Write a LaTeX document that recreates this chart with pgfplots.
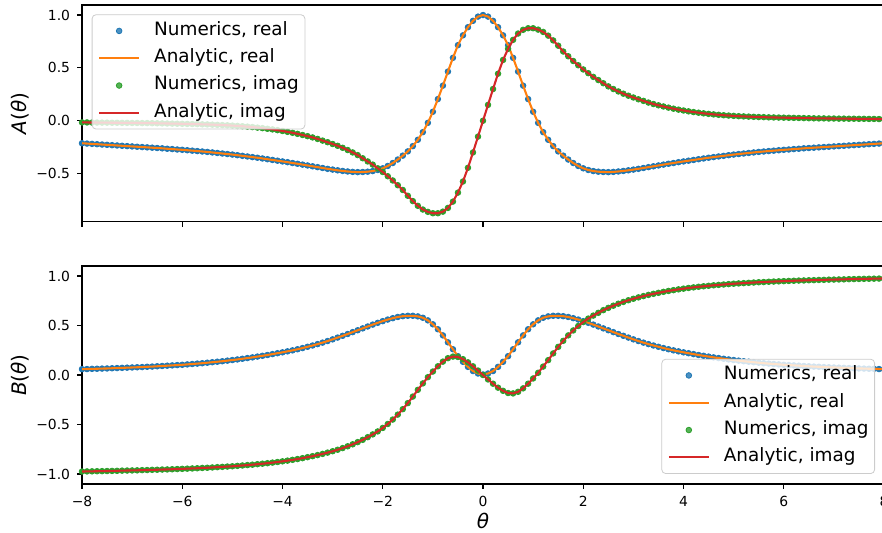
\documentclass[border=0pt]{standalone}
\usepackage{pgfplots}
\pgfplotsset{compat=1.18}
\usepackage{pgfplotstable}
\usepackage{fontspec}
\setmainfont{DejaVu Sans}
\definecolor{c0}{HTML}{1F77B4}
\definecolor{c1}{HTML}{FF7F0E}
\definecolor{c2}{HTML}{2CA02C}
\definecolor{c3}{HTML}{D62728}
\definecolor{lgrid}{HTML}{CCCCCC}

\pgfplotstableread{
t Ar Ai Br Bi
-8.0 -0.213 -0.016 0.059 -0.975
-7.9 -0.216 -0.016 0.060 -0.974
-7.8 -0.219 -0.017 0.062 -0.973
-7.7 -0.222 -0.017 0.063 -0.972
-7.6 -0.225 -0.018 0.065 -0.971
-7.5 -0.228 -0.018 0.066 -0.970
-7.4 -0.231 -0.019 0.068 -0.969
-7.3 -0.234 -0.019 0.070 -0.968
-7.2 -0.237 -0.020 0.072 -0.966
-7.1 -0.240 -0.020 0.074 -0.965
-7.0 -0.243 -0.021 0.076 -0.964
-6.9 -0.246 -0.021 0.078 -0.963
-6.8 -0.249 -0.022 0.080 -0.961
-6.7 -0.252 -0.022 0.083 -0.960
-6.6 -0.255 -0.023 0.085 -0.958
-6.5 -0.258 -0.024 0.088 -0.957
-6.4 -0.261 -0.025 0.091 -0.955
-6.3 -0.265 -0.026 0.094 -0.954
-6.2 -0.268 -0.027 0.097 -0.952
-6.1 -0.272 -0.028 0.100 -0.950
-6.0 -0.275 -0.029 0.103 -0.948
-5.9 -0.279 -0.030 0.107 -0.946
-5.8 -0.283 -0.031 0.111 -0.944
-5.7 -0.287 -0.032 0.115 -0.942
-5.6 -0.291 -0.034 0.119 -0.939
-5.5 -0.295 -0.035 0.124 -0.937
-5.4 -0.300 -0.037 0.129 -0.934
-5.3 -0.305 -0.039 0.134 -0.931
-5.2 -0.310 -0.041 0.139 -0.928
-5.1 -0.315 -0.043 0.145 -0.925
-5.0 -0.320 -0.046 0.151 -0.922
-4.9 -0.326 -0.049 0.157 -0.918
-4.8 -0.332 -0.052 0.164 -0.914
-4.7 -0.338 -0.056 0.171 -0.910
-4.6 -0.344 -0.060 0.178 -0.906
-4.5 -0.350 -0.065 0.186 -0.901
-4.4 -0.357 -0.070 0.194 -0.896
-4.3 -0.364 -0.076 0.202 -0.891
-4.2 -0.371 -0.082 0.211 -0.885
-4.1 -0.378 -0.089 0.220 -0.879
-4.0 -0.385 -0.097 0.229 -0.872
-3.9 -0.392 -0.105 0.239 -0.865
-3.8 -0.400 -0.114 0.249 -0.857
-3.7 -0.407 -0.124 0.260 -0.849
-3.6 -0.415 -0.135 0.272 -0.840
-3.5 -0.423 -0.146 0.285 -0.830
-3.4 -0.431 -0.158 0.298 -0.820
-3.3 -0.439 -0.172 0.312 -0.809
-3.2 -0.447 -0.188 0.327 -0.797
-3.1 -0.455 -0.203 0.343 -0.784
-3.0 -0.462 -0.220 0.360 -0.770
-2.9 -0.469 -0.237 0.378 -0.755
-2.8 -0.475 -0.256 0.396 -0.738
-2.7 -0.480 -0.277 0.414 -0.720
-2.6 -0.484 -0.300 0.433 -0.700
-2.5 -0.486 -0.325 0.452 -0.678
-2.4 -0.485 -0.355 0.471 -0.655
-2.3 -0.482 -0.385 0.490 -0.628
-2.2 -0.476 -0.415 0.509 -0.600
-2.1 -0.466 -0.450 0.527 -0.570
-2.0 -0.450 -0.485 0.544 -0.535
-1.9 -0.428 -0.525 0.560 -0.495
-1.8 -0.400 -0.565 0.574 -0.450
-1.7 -0.367 -0.610 0.586 -0.400
-1.6 -0.330 -0.655 0.594 -0.345
-1.5 -0.290 -0.710 0.598 -0.284
-1.4 -0.240 -0.760 0.598 -0.218
-1.3 -0.180 -0.805 0.592 -0.150
-1.2 -0.108 -0.840 0.578 -0.085
-1.1 -0.020 -0.862 0.552 -0.022
-1.0 0.085 -0.875 0.512 0.035
-0.9 0.205 -0.875 0.462 0.088
-0.8 0.332 -0.860 0.400 0.135
-0.7 0.465 -0.825 0.330 0.170
-0.6 0.595 -0.765 0.260 0.186
-0.5 0.715 -0.680 0.190 0.182
-0.4 0.808 -0.575 0.133 0.160
-0.3 0.885 -0.445 0.082 0.128
-0.2 0.945 -0.300 0.040 0.088
-0.1 0.985 -0.150 0.015 0.045
0.0 1.000 0.000 0.005 0.000
0.1 0.985 0.150 0.015 -0.045
0.2 0.945 0.300 0.040 -0.088
0.3 0.885 0.445 0.082 -0.128
0.4 0.808 0.575 0.133 -0.160
0.5 0.715 0.680 0.190 -0.182
0.6 0.595 0.765 0.260 -0.186
0.7 0.465 0.825 0.330 -0.170
0.8 0.332 0.860 0.400 -0.135
0.9 0.205 0.875 0.462 -0.088
1.0 0.085 0.875 0.512 -0.035
1.1 -0.020 0.862 0.552 0.022
1.2 -0.108 0.840 0.578 0.085
1.3 -0.180 0.805 0.592 0.150
1.4 -0.240 0.760 0.598 0.218
1.5 -0.290 0.710 0.598 0.284
1.6 -0.330 0.655 0.594 0.345
1.7 -0.367 0.610 0.586 0.400
1.8 -0.400 0.565 0.574 0.450
1.9 -0.428 0.525 0.560 0.495
2.0 -0.450 0.485 0.544 0.535
2.1 -0.466 0.450 0.527 0.570
2.2 -0.476 0.415 0.509 0.600
2.3 -0.482 0.385 0.490 0.628
2.4 -0.485 0.355 0.471 0.655
2.5 -0.486 0.325 0.452 0.678
2.6 -0.484 0.300 0.433 0.700
2.7 -0.480 0.277 0.414 0.720
2.8 -0.475 0.256 0.396 0.738
2.9 -0.469 0.237 0.378 0.755
3.0 -0.462 0.220 0.360 0.770
3.1 -0.455 0.203 0.343 0.784
3.2 -0.447 0.188 0.327 0.797
3.3 -0.439 0.172 0.312 0.809
3.4 -0.431 0.158 0.298 0.820
3.5 -0.423 0.146 0.285 0.830
3.6 -0.415 0.135 0.272 0.840
3.7 -0.407 0.124 0.260 0.849
3.8 -0.400 0.114 0.249 0.857
3.9 -0.392 0.105 0.239 0.865
4.0 -0.385 0.097 0.229 0.872
4.1 -0.378 0.089 0.220 0.879
4.2 -0.371 0.082 0.211 0.885
4.3 -0.364 0.076 0.202 0.891
4.4 -0.357 0.070 0.194 0.896
4.5 -0.350 0.065 0.186 0.901
4.6 -0.344 0.060 0.178 0.906
4.7 -0.338 0.056 0.171 0.910
4.8 -0.332 0.052 0.164 0.914
4.9 -0.326 0.049 0.157 0.918
5.0 -0.320 0.046 0.151 0.922
5.1 -0.315 0.043 0.145 0.925
5.2 -0.310 0.041 0.139 0.928
5.3 -0.305 0.039 0.134 0.931
5.4 -0.300 0.037 0.129 0.934
5.5 -0.295 0.035 0.124 0.937
5.6 -0.291 0.034 0.119 0.939
5.7 -0.287 0.032 0.115 0.942
5.8 -0.283 0.031 0.111 0.944
5.9 -0.279 0.030 0.107 0.946
6.0 -0.275 0.029 0.103 0.948
6.1 -0.272 0.028 0.100 0.950
6.2 -0.268 0.027 0.097 0.952
6.3 -0.265 0.026 0.094 0.954
6.4 -0.261 0.025 0.091 0.955
6.5 -0.258 0.024 0.088 0.957
6.6 -0.255 0.023 0.085 0.958
6.7 -0.252 0.022 0.083 0.960
6.8 -0.249 0.022 0.080 0.961
6.9 -0.246 0.021 0.078 0.963
7.0 -0.243 0.021 0.076 0.964
7.1 -0.240 0.020 0.074 0.965
7.2 -0.237 0.020 0.072 0.966
7.3 -0.234 0.019 0.070 0.968
7.4 -0.231 0.019 0.068 0.969
7.5 -0.228 0.018 0.066 0.970
7.6 -0.225 0.018 0.065 0.971
7.7 -0.222 0.017 0.063 0.972
7.8 -0.219 0.017 0.062 0.973
7.9 -0.216 0.016 0.060 0.974
8.0 -0.213 0.016 0.059 0.975
}\data

\pgfplotsset{
  mpl/.style={
    scale only axis, width=401pt,
    xmin=-8, xmax=8,
    clip mode=individual,
    axis line style={line width=0.56pt},
    tick align=outside, xtick pos=bottom, ytick pos=left,
    major tick length=2.43pt,
    every tick/.style={black, line width=0.56pt},
    tick label style={font=\fontsize{6.95}{8}\selectfont},
    xtick={-8,-6,-4,-2,0,2,4,6,8},
    label style={font=\fontsize{9.7}{11}\selectfont},
    every axis y label/.style={at={(axis description cs:-0.0767,0.5)}, rotate=90, anchor=center},
    legend cell align=left,
    legend image code/.code={\draw[mark repeat=2,mark phase=2,##1] plot coordinates {(0pt,0pt) (10pt,0pt) (20pt,0pt)};},
    legend style={draw=lgrid, rounded corners=2pt, fill=white, fill opacity=0.8, text opacity=1,
      font=\fontsize{9.2}{11}\selectfont, inner xsep=3pt, inner ysep=1.3pt,
      nodes={inner xsep=0pt, inner ysep=2pt, text height=7.0pt, text depth=2.65pt},
      /tikz/every odd column/.append style={column sep=7pt}},
  },
  num/.style={only marks, color=#1, mark=*, mark size=1.4pt, mark options={solid, draw=none, fill=#1}},
  ana/.style={no marks, color=#1, line width=1.04pt},
}

\begin{document}
\begin{tikzpicture}
\useasboundingbox (0,0) rectangle (441pt,266.5pt);
\begin{axis}[mpl, at={(41pt,155.65pt)}, anchor=south west, height=108.35pt,
  ymin=-0.955, ymax=1.095,
  ytick={-0.5,0,0.5,1}, yticklabels={−0.5,0.0,0.5,1.0},
  xticklabels={},
  ylabel={\textit{A}(\textit{θ})},
  legend style={at={(0,1)}, anchor=north west, xshift=4.85pt, yshift=-4.65pt}]
\addplot[num=c0] table[x=t,y=Ar]{\data};
\addlegendentry{Numerics, real}
\addplot[ana=c1] table[x=t,y=Ar]{\data};
\addlegendentry{Analytic, real}
\addplot[num=c2] table[x=t,y=Ai]{\data};
\addlegendentry{Numerics, imag}
\addplot[ana=c3] table[x=t,y=Ai]{\data};
\addlegendentry{Analytic, imag}
\end{axis}
\begin{axis}[mpl, at={(41pt,24.5pt)}, anchor=south west, height=109pt,
  ymin=-1.101, ymax=1.101,
  ytick={-1,-0.5,0,0.5,1}, yticklabels={−1.0,−0.5,0.0,0.5,1.0},
  xticklabels={−8,−6,−4,−2,0,2,4,6,8},
  xlabel={\textit{θ}},
  every axis x label/.style={at={(axis description cs:0.5,0)}, anchor=center, yshift=-18.3pt},
  ylabel={\textit{B}(\textit{θ})},
  legend style={at={(1,0)}, anchor=south east, xshift=-4.5pt, yshift=5pt}]
\addplot[num=c0] table[x=t,y=Br]{\data};
\addlegendentry{Numerics, real}
\addplot[ana=c1] table[x=t,y=Br]{\data};
\addlegendentry{Analytic, real}
\addplot[num=c2] table[x=t,y=Bi]{\data};
\addlegendentry{Numerics, imag}
\addplot[ana=c3] table[x=t,y=Bi]{\data};
\addlegendentry{Analytic, imag}
\end{axis}
\end{tikzpicture}
\end{document}
